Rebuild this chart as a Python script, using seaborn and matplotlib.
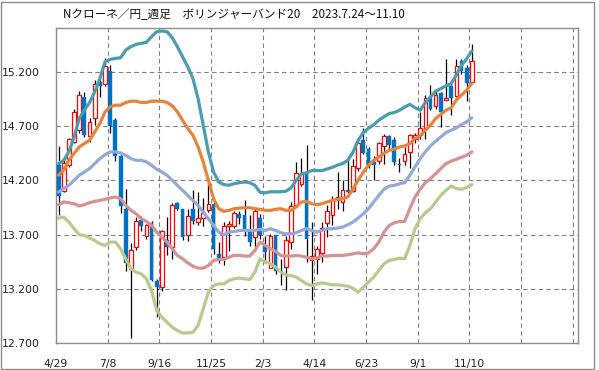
import numpy as np
import pandas as pd
import matplotlib
matplotlib.use("Agg")
import matplotlib.pyplot as plt
from matplotlib.patches import Rectangle
import seaborn as sns

# ---------------- data (weekly, 2022-04-29 .. 2023-11-10) ----------------
opens = [14.34, 14.10, 14.34, 14.55, 14.66, 14.97, 14.61, 14.77, 15.11, 15.09,
         15.21, 14.76, 14.42, 13.94, 13.38, 13.59, 13.835, 13.685, 13.81, 13.27,
         13.22, 13.655, 13.59, 13.99, 13.94, 13.70, 13.94, 13.82, 13.855, 13.925,
         13.985, 13.525, 13.49, 13.78, 13.78, 13.89, 13.88, 13.74, 13.68, 13.85,
         13.60, 13.39, 13.70, 13.37, 13.40, 13.63, 13.97, 14.17, 14.27, 13.47,
         13.48, 13.53, 13.81, 13.885, 14.015, 14.00, 14.115, 14.10, 14.315, 14.57,
         14.49, 14.365, 14.375, 14.52, 14.61, 14.57, 14.355, 14.375, 14.46, 14.585,
         14.615, 14.67, 14.96, 14.885, 15.00, 14.94, 15.07, 14.98, 15.30, 15.235,
         15.11]
highs = [14.52, 14.40, 14.59, 14.86, 15.02, 15.01, 14.77, 15.12, 15.14, 15.33,
         15.26, 14.77, 14.43, 14.12, 13.62, 13.86, 13.87, 13.80, 13.83, 13.29,
         13.74, 13.86, 13.99, 14.00, 13.94, 13.94, 14.11, 14.09, 14.04, 14.18,
         14.00, 13.63, 13.82, 13.83, 13.92, 13.92, 14.02, 13.88, 13.94, 13.89,
         13.69, 13.71, 13.70, 13.48, 13.69, 14.00, 14.37, 14.41, 14.53, 13.82,
         13.60, 13.82, 13.97, 14.06, 14.28, 14.20, 14.40, 14.40, 14.59, 14.68,
         14.51, 14.42, 14.55, 14.63, 14.62, 14.60, 14.41, 14.51, 14.63, 14.64,
         14.83, 14.985, 15.08, 15.03, 15.015, 15.32, 15.08, 15.32, 15.32, 15.26,
         15.46]
lows = [13.88, 14.09, 14.32, 14.54, 14.64, 14.60, 14.55, 14.71, 14.97, 15.07,
        14.64, 14.38, 13.90, 13.37, 12.75, 13.56, 13.73, 13.66, 13.27, 12.94,
        13.18, 13.51, 13.48, 13.93, 13.65, 13.64, 13.80, 13.79, 13.78, 13.91,
        13.52, 13.44, 13.42, 13.55, 13.76, 13.80, 13.69, 13.60, 13.55, 13.66,
        13.47, 13.39, 13.34, 13.24, 13.19, 13.57, 13.97, 14.15, 13.45, 13.10,
        13.34, 13.45, 13.68, 13.79, 13.94, 13.92, 14.08, 14.09, 14.29, 14.44,
        14.31, 14.20, 14.355, 14.355, 14.49, 14.34, 14.28, 14.34, 14.31, 14.54,
        14.585, 14.585, 14.845, 14.86, 14.69, 14.94, 14.80, 14.97, 15.18, 14.93,
        15.10]
closes = [14.06, 14.36, 14.58, 14.83, 14.99, 14.62, 14.74, 15.09, 15.07, 15.25,
          14.70, 14.42, 13.96, 13.44, 13.56, 13.83, 13.78, 13.79, 13.28, 13.22,
          13.73, 13.59, 13.97, 13.94, 13.68, 13.875, 13.825, 13.855, 13.90, 13.985,
          13.57, 13.48, 13.78, 13.80, 13.90, 13.85, 13.74, 13.63, 13.92, 13.70,
          13.54, 13.69, 13.37, 13.355, 13.65, 13.96, 14.27, 14.27, 13.66, 13.50,
          13.565, 13.76, 13.92, 14.025, 14.045, 14.11, 14.09, 14.335, 14.54, 14.455,
          14.34, 14.34, 14.54, 14.61, 14.53, 14.365, 14.34, 14.44, 14.615, 14.615,
          14.68, 14.96, 14.86, 14.99, 14.83, 14.96, 14.96, 15.255, 15.205, 15.10,
          15.30]

upper2 = [14.354, 14.385, 14.462, 14.60, 14.769, 14.846, 14.917, 15.015, 15.138, 15.292,
          15.314, 15.323, 15.329, 15.40, 15.431, 15.452, 15.461, 15.471, 15.523, 15.569,
          15.575, 15.569, 15.514, 15.431, 15.338, 15.246, 15.138, 14.954, 14.708, 14.462,
          14.277, 14.185, 14.161, 14.155, 14.17, 14.179, 14.185, 14.179, 14.155, 14.09,
          14.085, 14.095, 14.095, 14.095, 14.10, 14.13, 14.20, 14.26, 14.27, 14.29,
          14.29, 14.29, 14.305, 14.32, 14.34, 14.355, 14.385, 14.46, 14.57, 14.64,
          14.68, 14.71, 14.755, 14.785, 14.815, 14.825, 14.845, 14.875, 14.90, 14.87,
          14.845, 14.915, 14.97, 15.02, 15.045, 15.07, 15.09, 15.17, 15.26, 15.32,
          15.39]
upper1 = [14.247, 14.293, 14.385, 14.447, 14.508, 14.539, 14.57, 14.646, 14.723, 14.831,
          14.877, 14.892, 14.892, 14.917, 14.929, 14.929, 14.917, 14.917, 14.929, 14.929,
          14.929, 14.917, 14.886, 14.831, 14.754, 14.677, 14.616, 14.508, 14.37, 14.201,
          14.032, 13.939, 13.915, 13.924, 13.939, 13.945, 13.948, 13.948, 13.939, 13.933,
          13.924, 13.924, 13.933, 13.939, 13.924, 13.924, 13.955, 14.001, 14.007, 13.985,
          13.976, 13.985, 14.001, 14.016, 14.025, 14.032, 14.047, 14.124, 14.201, 14.277,
          14.339, 14.385, 14.416, 14.447, 14.477, 14.487, 14.508, 14.517, 14.539, 14.585,
          14.61, 14.662, 14.708, 14.77, 14.806, 14.846, 14.868, 14.939, 14.985, 15.031,
          15.092]
middle = [14.093, 14.124, 14.154, 14.201, 14.247, 14.277, 14.308, 14.354, 14.40, 14.437,
          14.462, 14.462, 14.453, 14.431, 14.40, 14.385, 14.385, 14.37, 14.339, 14.302,
          14.277, 14.247, 14.201, 14.154, 14.108, 14.062, 14.016, 13.97, 13.908, 13.847,
          13.785, 13.724, 13.699, 13.724, 13.73, 13.739, 13.739, 13.739, 13.739, 13.749,
          13.739, 13.755, 13.739, 13.718, 13.709, 13.709, 13.718, 13.739, 13.755, 13.739,
          13.724, 13.739, 13.755, 13.755, 13.761, 13.77, 13.792, 13.816, 13.853, 13.893,
          13.939, 14.001, 14.062, 14.118, 14.148, 14.154, 14.17, 14.179, 14.247, 14.324,
          14.40, 14.462, 14.517, 14.56, 14.60, 14.64, 14.662, 14.683, 14.714, 14.739,
          14.776]
lower1 = [13.976, 14.001, 13.995, 13.985, 13.964, 13.976, 13.995, 14.007, 14.016, 14.025,
          14.038, 14.047, 14.032, 13.97, 13.924, 13.893, 13.847, 13.822, 13.785, 13.724,
          13.678, 13.632, 13.57, 13.509, 13.478, 13.441, 13.41, 13.392, 13.392, 13.416,
          13.463, 13.472, 13.472, 13.493, 13.509, 13.509, 13.503, 13.503, 13.555, 13.632,
          13.601, 13.57, 13.546, 13.509, 13.503, 13.503, 13.509, 13.503, 13.493, 13.478,
          13.484, 13.503, 13.503, 13.509, 13.509, 13.509, 13.515, 13.524, 13.533, 13.524,
          13.533, 13.57, 13.632, 13.724, 13.785, 13.81, 13.822, 13.822, 13.939, 14.047,
          14.118, 14.179, 14.216, 14.262, 14.308, 14.354, 14.376, 14.394, 14.413, 14.431,
          14.462]
lower2 = [13.853, 13.862, 13.816, 13.755, 13.699, 13.693, 13.669, 13.647, 13.616, 13.601,
          13.632, 13.632, 13.57, 13.478, 13.386, 13.355, 13.34, 13.294, 13.186, 13.002,
          12.94, 12.894, 12.848, 12.817, 12.795, 12.795, 12.801, 12.863, 13.017, 13.171,
          13.232, 13.247, 13.247, 13.278, 13.294, 13.30, 13.294, 13.287, 13.355, 13.478,
          13.447, 13.432, 13.401, 13.355, 13.33, 13.324, 13.309, 13.278, 13.247, 13.232,
          13.247, 13.257, 13.247, 13.238, 13.238, 13.232, 13.226, 13.207, 13.171, 13.217,
          13.263, 13.309, 13.37, 13.432, 13.463, 13.472, 13.484, 13.478, 13.60, 13.755,
          13.847, 13.902, 13.939, 14.0, 14.062, 14.108, 14.148, 14.124, 14.118, 14.136,
          14.161]

xtick_labels = ["4/29", "7/8", "9/16", "11/25", "2/3", "4/14", "6/23", "9/1", "11/10", "", ""]
ytick_values = [12.7, 13.2, 13.7, 14.2, 14.7, 15.2]
title = "Nクローネ／円_週足　ボリンジャーバンド20　2023.7.24～11.10"

# ---------------- figure ----------------
sns.set_theme(style="white")
plt.rcParams["font.family"] = ["DejaVu Sans"]

W, H = 599, 370
fig = plt.figure(figsize=(W / 100, H / 100), dpi=100)
fig.patch.set_facecolor("white")
fig.patches.append(Rectangle((1 / W, 1.5 / H), 593 / W, 366.5 / H, transform=fig.transFigure,
                             fill=False, edgecolor="#8c8c8c", linewidth=1.0))

left, right, top, bottom = 56, 577.7, 28.3, 343.3
ax = fig.add_axes([left / W, 1 - bottom / H, (right - left) / W, (bottom - top) / H])

n = len(closes)
x = np.arange(n) + 0.5
o = np.array(opens); c = np.array(closes); h = np.array(highs); l = np.array(lows)
up = c >= o
dn = ~up

ax.vlines(x, l, h, color="black", linewidth=0.9, zorder=2)
ax.bar(x[up], c[up] - o[up], bottom=o[up], width=0.7, facecolor="white",
       edgecolor="#FF0000", linewidth=0.9, zorder=3)
ax.bar(x[dn], o[dn] - c[dn], bottom=c[dn], width=0.75, facecolor="#0070C0",
       edgecolor="#0070C0", linewidth=0.3, zorder=3)

bands = {"+2σ": upper2, "+1σ": upper1, "MA": middle, "-1σ": lower1, "-2σ": lower2}
palette = {"+2σ": "#4A9DB0", "+1σ": "#E5843C", "MA": "#94A9D8",
           "-1σ": "#D39393", "-2σ": "#B4CA8E"}
df = pd.concat([pd.DataFrame({"x": x, "value": v, "band": k}) for k, v in bands.items()])
sns.lineplot(data=df, x="x", y="value", hue="band", palette=palette, linewidth=2.3,
             legend=False, ax=ax, sort=False, zorder=4)

ax.set_xlim(0, 101)
ax.set_ylim(12.7, 15.6)
ax.set_xticks(np.arange(0, 101, 10))
ax.set_xticklabels(xtick_labels)
ax.set_yticks(ytick_values)
ax.set_yticklabels([f"{v:.3f}" for v in ytick_values])
ax.set_xlabel("")
ax.set_ylabel("")

ax.grid(True, linestyle=(0, (4, 3)), color="#808080", linewidth=0.8)
ax.set_axisbelow(True)
for s in ax.spines.values():
    s.set_color("#8c8c8c")
    s.set_linewidth(1.0)
ax.tick_params(axis="both", direction="out", length=3, width=0.8, color="#8c8c8c",
               labelsize=7.8, labelcolor="#222222")
ax.tick_params(axis="y", pad=9)
ax.tick_params(axis="x", pad=8)

fig.text(63 / W, 1 - 15 / H, title, ha="left", va="center", fontsize=8.4,
         family=["Noto Sans CJK JP", "DejaVu Sans"], color="#111111")

fig.savefig("out.png", dpi=100, facecolor="white")
